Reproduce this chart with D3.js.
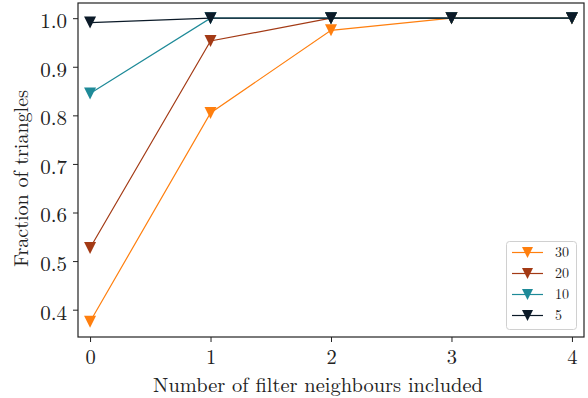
<!DOCTYPE html>
<html><head><meta charset="utf-8">
<script src="https://cdn.jsdelivr.net/npm/d3@7"></script>
<style>body{margin:0;background:#fff}svg{display:block}</style>
</head><body><svg id="c" width="588" height="398"></svg>
<script>
const xValues = [0, 1, 2, 3, 4];
const seriesNames = ["30", "20", "10", "5"];
const series30 = [0.375, 0.805, 0.975, 1.0, 1.0];
const series20 = [0.527, 0.953, 1.0, 1.0, 1.0];
const series10 = [0.845, 1.0, 1.0, 1.0, 1.0];
const series5 = [0.991, 1.0, 1.0, 1.0, 1.0];
const colors = ["#ff7f0e", "#a33a15", "#1e8a98", "#0b1a28"];
const xTicks = [0, 1, 2, 3, 4];
const yTicks = [0.4, 0.5, 0.6, 0.7, 0.8, 0.9, 1.0];

const FONT = "Latin Modern Roman, Liberation Serif, serif";
const allSeries = [series30, series20, series10, series5];
const L = 78, R = 584, T = 3, B = 337;
const svg = d3.select("#c");
const x = d3.scaleLinear().domain([-0.1, 4.1]).range([L, R]);
const y = d3.scaleLinear().domain([0.34375, 1.03125]).range([B, T]);

const gx = svg.append("g").attr("transform", `translate(0,${B})`)
  .call(d3.axisBottom(x).tickValues(xTicks).tickFormat(d3.format("d")).tickSize(5).tickPadding(5));
const gy = svg.append("g").attr("transform", `translate(${L},0)`)
  .call(d3.axisLeft(y).tickValues(yTicks).tickFormat(d3.format(".1f")).tickSize(5).tickPadding(6));
[gx, gy].forEach(g => {
  g.attr("font-family", null).attr("font-size", null);
  g.select(".domain").remove();
  g.selectAll("line").attr("stroke", "#222").attr("stroke-width", 1);
  g.selectAll("text").style("font-size", "21px").style("font-family", FONT).attr("fill", "#222");
});
gx.selectAll("text").style("font-size", "20.5px").attr("y", 26.5).attr("dy", null);
gy.selectAll("text").attr("x", -11).attr("dy", "0.45em");

const line = d3.line().x((d, i) => x(xValues[i])).y(d => y(d));
const triType = {draw(ctx, s){ const h = Math.sqrt(s)/2; ctx.moveTo(-h,-h); ctx.lineTo(h,-h); ctx.lineTo(0,h); ctx.closePath(); }};
const tri = d3.symbol().type(triType).size(144);

allSeries.forEach((s, k) => {
  svg.append("path").datum(s).attr("d", line).attr("fill", "none")
    .attr("stroke", colors[k]).attr("stroke-width", 1.2);
  svg.append("g").selectAll("path").data(s).join("path")
    .attr("transform", (d, i) => `translate(${x(xValues[i])},${y(d)})`)
    .attr("d", tri).attr("fill", colors[k]);
});

svg.append("rect").attr("x", L).attr("y", T).attr("width", R - L).attr("height", B - T)
  .attr("fill", "none").attr("stroke", "#222").attr("stroke-width", 1.2);

// legend
const lg = svg.append("g");
lg.append("rect").attr("x", 506.5).attr("y", 241.5).attr("width", 70).attr("height", 88)
  .attr("rx", 3).attr("fill", "rgba(255,255,255,0.8)").attr("stroke", "#d0d0d0");
const tri2 = d3.symbol().type(triType).size(121);
seriesNames.forEach((n, k) => {
  const yy = 252.5 + k * 21;
  lg.append("line").attr("x1", 512).attr("x2", 543).attr("y1", yy).attr("y2", yy)
    .attr("stroke", colors[k]).attr("stroke-width", 1.2);
  lg.append("path").attr("transform", `translate(527.5,${yy})`).attr("d", tri2).attr("fill", colors[k]);
  lg.append("text").attr("x", 555).attr("y", yy + 4.5).style("font-size", "14px")
    .style("font-family", FONT).attr("fill", "#222").text(n);
});

function fitText(sel, target) {
  const w = sel.node().getComputedTextLength();
  if (w > 0) sel.style("font-size", (20 * target / w) + "px");
}
const xl = svg.append("text").attr("x", 318).attr("y", 387.5).attr("text-anchor", "middle")
  .style("font-size", "20px").style("font-family", FONT).attr("fill", "#222")
  .text("Number of filter neighbours included");
fitText(xl, 330);
// keep the axis title clear of the tick labels' boxes
let tickBottom = 0;
gx.selectAll("text").each(function(){ const b = this.getBoundingClientRect(); tickBottom = Math.max(tickBottom, b.bottom); });
const xb = xl.node().getBoundingClientRect();
if (xb.top < tickBottom) xl.attr("y", Math.min(392, 387.5 + (tickBottom - xb.top) + 0.5));

const yl = svg.append("text").attr("transform", `translate(27.5,178.5) rotate(-90)`).attr("text-anchor", "middle")
  .style("font-size", "20px").style("font-family", FONT).attr("fill", "#222")
  .text("Fraction of triangles");
fitText(yl, 177);
</script></body></html>
